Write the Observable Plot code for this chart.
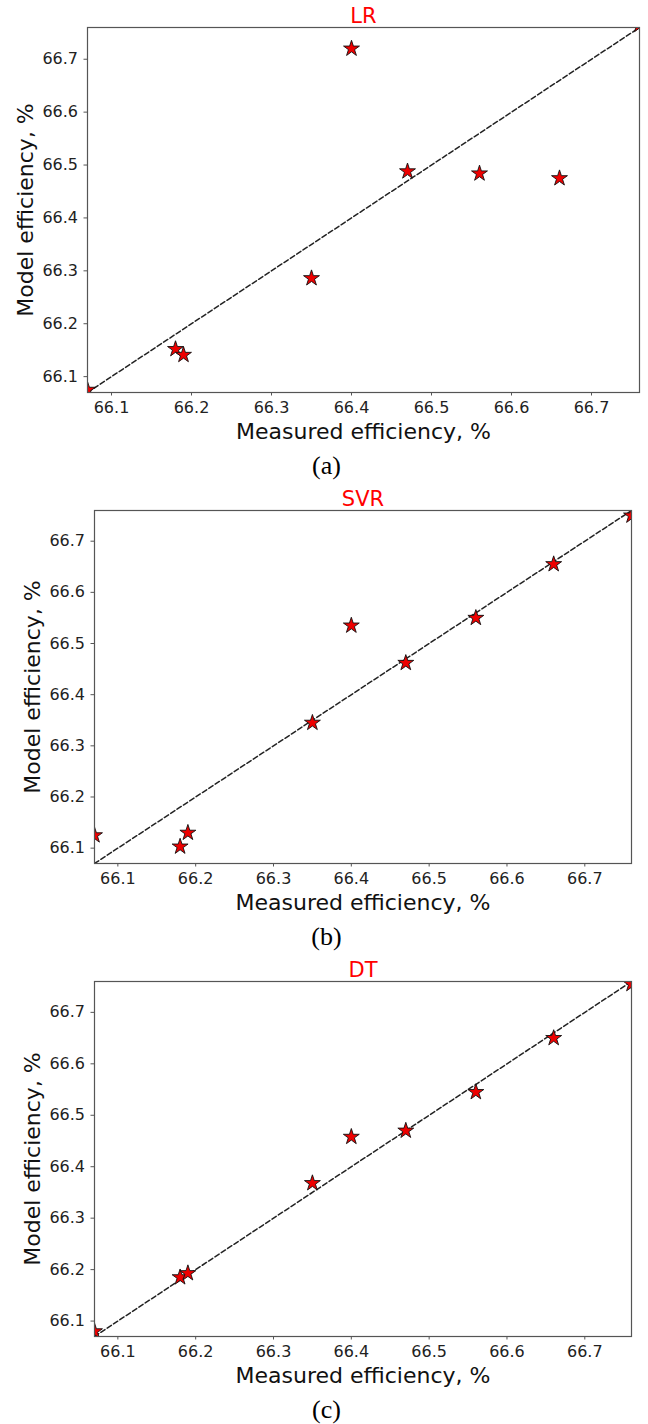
<!DOCTYPE html>
<html>
<head>
<meta charset="utf-8">
<script src="https://cdn.jsdelivr.net/npm/d3@7"></script>
<script src="https://cdn.jsdelivr.net/npm/@observablehq/plot@0.6"></script>
<style>
  html, body { margin: 0; padding: 0; background: #fff; }
  body { width: 648px; height: 1424px; position: relative; overflow: hidden; }
  .panel { position: absolute; left: 0; }
</style>
</head>
<body>
<div id="a" class="panel"></div>
<div id="b" class="panel"></div>
<div id="c" class="panel"></div>
<script>
// Measured efficiency (%) of the test samples
const measured = [66.07, 66.18, 66.19, 66.35, 66.40, 66.47, 66.56, 66.66, 66.76];
// Model predictions (%)
const lrPred  = [66.075, 66.152, 66.141, 66.286, 66.720, 66.488, 66.484, 66.475, 66.765];
const svrPred = [66.125, 66.103, 66.130, 66.345, 66.535, 66.462, 66.550, 66.655, 66.750];
const dtPred  = [66.080, 66.185, 66.193, 66.368, 66.458, 66.470, 66.545, 66.650, 66.755];
// Tick labels
const tickValues = [66.1, 66.2, 66.3, 66.4, 66.5, 66.6, 66.7];
// Panel titles and captions
const modelNames = ["LR", "SVR", "DT"];
const captions = ["(a)", "(b)", "(c)"];
const xLabel = "Measured efficiency, %";
const yLabel = "Model efficiency, %";

const domain = d3.extent(measured);
const fmt = d3.format(".1f");

function panel(pred, name, caption, geom) {
  const rows = measured.map((m, i) => ({measured: m, predicted: pred[i]}));
  const diag = domain.map(v => ({measured: v, predicted: v}));
  const mTop = 27, mBottom = 92;
  return Plot.plot({
    width: 648,
    height: mTop + geom.h + mBottom,
    marginTop: mTop,
    marginBottom: mBottom,
    marginLeft: geom.left,
    marginRight: 648 - geom.right,
    style: {fontFamily: "DejaVu Sans", background: "transparent", color: "#222", overflow: "visible"},
    x: {domain},
    y: {domain},
    marks: [
      Plot.axisX({ticks: tickValues, tickFormat: fmt, tickSize: 3.5, tickPadding: 6, fontSize: 16, label: null, stroke: "#555"}),
      Plot.axisY({ticks: tickValues, tickFormat: fmt, tickSize: 3.5, tickPadding: 6, fontSize: 16, label: null, stroke: "#555"}),
      Plot.line(diag, {x: "measured", y: "predicted", stroke: "#222", strokeWidth: 1.5, strokeDasharray: "5,2.6", clip: true}),
      Plot.dot(rows, {x: "measured", y: "predicted", symbol: "star", r: 5, fill: "#ee0000", stroke: "#111", strokeWidth: 0.9, clip: true}),
      Plot.frame({stroke: "#555", strokeWidth: 1.2}),
      Plot.text([name], {text: d => d, frameAnchor: "top", textAnchor: "middle", lineAnchor: "bottom", dy: -5, fill: "#ff0000", fontSize: 21}),
      Plot.text([xLabel], {text: d => d, frameAnchor: "bottom", textAnchor: "middle", lineAnchor: "bottom", dy: 46, fill: "#111", fontSize: 22}),
      Plot.text([yLabel], {text: d => d, frameAnchor: "left", textAnchor: "middle", lineAnchor: "bottom", rotate: -90, dx: -55, fill: "#111", fontSize: 22}),
      Plot.text([caption], {text: d => d, frameAnchor: "bottom", textAnchor: "middle", lineAnchor: "bottom", dy: 81, dx: 2 + (324 - (geom.left + geom.right) / 2), fill: "#000", fontSize: 26, fontFamily: "Liberation Serif"})
    ]
  });
}

const geoms = [
  {top: 27, left: 87, right: 639, h: 365},
  {top: 510, left: 94, right: 631, h: 353},
  {top: 981, left: 94, right: 631, h: 355}
];
const preds = [lrPred, svrPred, dtPred];
["a", "b", "c"].forEach((id, i) => {
  const el = document.getElementById(id);
  el.style.top = (geoms[i].top - 27) + "px";
  el.appendChild(panel(preds[i], modelNames[i], captions[i], geoms[i]));
});
</script>
</body>
</html>
